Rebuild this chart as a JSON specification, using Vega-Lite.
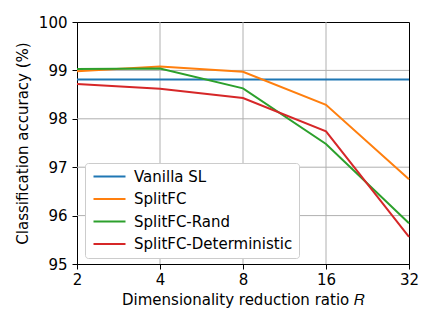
{
  "$schema": "https://vega.github.io/schema/vega-lite/v6.json",
  "autosize": "none",
  "width": 332,
  "height": 242,
  "padding": {"left": 77, "top": 22, "right": 27, "bottom": 63},
  "background": "white",
  "config": {
    "font": "DejaVu Sans",
    "view": {"stroke": "black", "strokeWidth": 1}
  },
  "layer": [
    {
      "data": {"values": [{"R": 4}, {"R": 8}, {"R": 16}]},
      "mark": {"type": "rule", "color": "#b0b0b0", "strokeWidth": 1},
      "encoding": {
        "x": {"field": "R", "type": "quantitative"}
      }
    },
    {
      "data": {"values": [{"acc": 96}, {"acc": 97}, {"acc": 98}, {"acc": 99}]},
      "mark": {"type": "rule", "color": "#b0b0b0", "strokeWidth": 1},
      "encoding": {
        "y": {"field": "acc", "type": "quantitative"}
      }
    },
    {
      "data": {
        "values": [
          {"R": 2, "acc": 98.81, "method": "Vanilla SL"},
          {"R": 4, "acc": 98.81, "method": "Vanilla SL"},
          {"R": 8, "acc": 98.81, "method": "Vanilla SL"},
          {"R": 16, "acc": 98.81, "method": "Vanilla SL"},
          {"R": 32, "acc": 98.81, "method": "Vanilla SL"},
          {"R": 2, "acc": 98.98, "method": "SplitFC"},
          {"R": 4, "acc": 99.08, "method": "SplitFC"},
          {"R": 8, "acc": 98.97, "method": "SplitFC"},
          {"R": 16, "acc": 98.29, "method": "SplitFC"},
          {"R": 32, "acc": 96.75, "method": "SplitFC"},
          {"R": 2, "acc": 99.03, "method": "SplitFC-Rand"},
          {"R": 4, "acc": 99.04, "method": "SplitFC-Rand"},
          {"R": 8, "acc": 98.63, "method": "SplitFC-Rand"},
          {"R": 16, "acc": 97.48, "method": "SplitFC-Rand"},
          {"R": 32, "acc": 95.84, "method": "SplitFC-Rand"},
          {"R": 2, "acc": 98.72, "method": "SplitFC-Deterministic"},
          {"R": 4, "acc": 98.62, "method": "SplitFC-Deterministic"},
          {"R": 8, "acc": 98.43, "method": "SplitFC-Deterministic"},
          {"R": 16, "acc": 97.74, "method": "SplitFC-Deterministic"},
          {"R": 32, "acc": 95.56, "method": "SplitFC-Deterministic"}
        ]
      },
      "mark": {"type": "line", "strokeWidth": 2},
      "encoding": {
        "x": {
          "field": "R",
          "type": "quantitative",
          "scale": {"type": "log", "base": 2, "domain": [2, 32], "nice": false},
          "axis": {
            "grid": false,
            "values": [2, 4, 8, 16, 32],
            "format": "d",
            "title": "Dimensionality reduction ratio 𝑅",
            "titleFontSize": 15,
            "titleFontWeight": "normal",
            "titleColor": "black",
            "titlePadding": 5,
            "labelFontSize": 15,
            "labelColor": "black",
            "labelPadding": 3,
            "tickColor": "black",
            "tickSize": 5,
            "domainColor": "black",
            "labelFlush": false,
            "labelOverlap": false
          }
        },
        "y": {
          "field": "acc",
          "type": "quantitative",
          "scale": {"domain": [95, 100], "nice": false, "zero": false},
          "axis": {
            "grid": false,
            "values": [95, 96, 97, 98, 99, 100],
            "title": "Classification accuracy (%)",
            "titleFontSize": 15,
            "titleFontWeight": "normal",
            "titleColor": "black",
            "titlePadding": 8,
            "labelFontSize": 15,
            "labelColor": "black",
            "labelPadding": 5,
            "tickColor": "black",
            "tickSize": 5,
            "domainColor": "black",
            "labelFlush": false,
            "labelOverlap": false
          }
        },
        "color": {
          "field": "method",
          "type": "nominal",
          "scale": {
            "domain": ["Vanilla SL", "SplitFC", "SplitFC-Rand", "SplitFC-Deterministic"],
            "range": ["#1f77b4", "#ff7f0e", "#2ca02c", "#d62728"]
          },
          "legend": {
            "orient": "none",
            "legendX": 8,
            "legendY": 141,
            "title": null,
            "symbolType": "M-1.25,0H6.75",
            "symbolSize": 64,
            "symbolStrokeWidth": 2,
            "labelFontSize": 15,
            "labelColor": "black",
            "labelOffset": 35,
            "rowPadding": 6.5,
            "padding": 6,
            "fillColor": "white",
            "strokeColor": "#cccccc",
            "cornerRadius": 3,
            "encode": {"labels": {"update": {"x": {"value": 43}}}}
          }
        }
      }
    }
  ]
}
